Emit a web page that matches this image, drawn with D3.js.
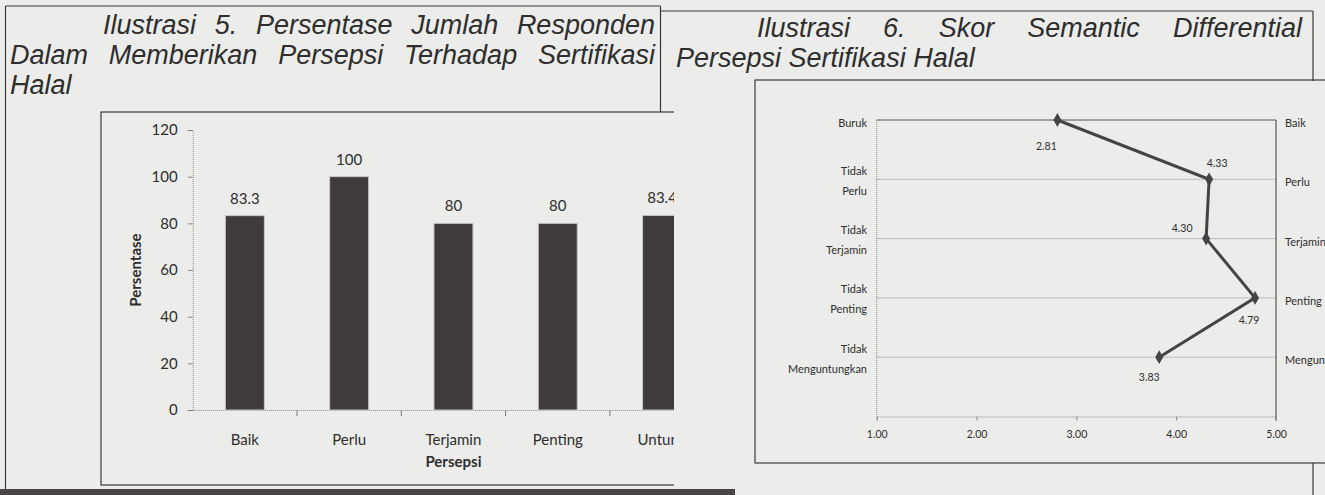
<!DOCTYPE html>
<html>
<head>
<meta charset="utf-8">
<script src="https://cdn.jsdelivr.net/npm/d3@7"></script>
<style>
  body { margin: 0; background: #ececea; }
  svg { display: block; }
</style>
</head>
<body>
<script>
// ---- data: bar chart (Ilustrasi 5) ----
var barCategories = ["Baik", "Perlu", "Terjamin", "Penting", "Untung"];
var barValues = [83.3, 100, 80, 80, 83.4];
var barYTicks = [0, 20, 40, 60, 80, 100, 120];

// ---- data: semantic differential (Ilustrasi 6) ----
var leftLabels = [["Buruk"], ["Tidak", "Perlu"], ["Tidak", "Terjamin"], ["Tidak", "Penting"], ["Tidak", "Menguntungkan"]];
var rightLabels = ["Baik", "Perlu", "Terjamin", "Penting", "Menguntungkan"];
var scores = [2.81, 4.33, 4.30, 4.79, 3.83];
var scoreTicks = [1, 2, 3, 4, 5];

var width = 1325, height = 495;
var ink = "#2e2e2e";
var titleSize = 27;

var svg = d3.select("body").append("svg")
    .attr("width", width)
    .attr("height", height);

svg.append("rect").attr("width", width).attr("height", height).attr("fill", "#ececea");

//__frames of the scanned page__//
function frameLine(x1, y1, x2, y2, w) {
    svg.append("line")
        .attr("x1", x1).attr("y1", y1).attr("x2", x2).attr("y2", y2)
        .attr("stroke", "#3a3a3a").attr("stroke-width", w || 1.2);
}
frameLine(5.5, 6, 660.5, 6);
frameLine(5.5, 6, 5.5, 490);
frameLine(660.5, 6, 660.5, 112);
frameLine(660.5, 11, 1313, 11);
frameLine(1313, 11, 1313, 81);
frameLine(1313, 463, 1313, 495);

// dark scanner edge at the bottom
svg.append("rect").attr("x", 0).attr("y", 489).attr("width", 735).attr("height", 6).attr("fill", "#4a4444");

//__justified italic caption lines__//
function justify(words, x0, x1, y, stretch) {
    var t = svg.append("g")
        .attr("font-family", "'Liberation Sans', Arial, sans-serif")
        .attr("font-style", "italic")
        .attr("font-size", titleSize)
        .attr("fill", ink);
    var nodes = words.map(function (w) {
        return t.append("text").attr("y", y).text(w);
    });
    var widths = nodes.map(function (n) { return n.node().getComputedTextLength(); });
    var total = d3.sum(widths);
    var gap = stretch && words.length > 1 ? (x1 - x0 - total) / (words.length - 1) : titleSize * 0.28;
    var x = x0;
    nodes.forEach(function (n, i) {
        n.attr("x", x);
        x += widths[i] + gap;
    });
}
justify("Ilustrasi 5. Persentase Jumlah Responden".split(" "), 103, 655, 34, true);
justify("Dalam Memberikan Persepsi Terhadap Sertifikasi".split(" "), 10, 655, 64, true);
justify(["Halal"], 10, 100, 94, false);
justify("Ilustrasi 6. Skor Semantic Differential".split(" "), 757, 1302, 37, true);
justify("Persepsi Sertifikasi Halal".split(" "), 676, 1000, 67, false);

//__bar chart__//
var box1 = { left: 101, top: 112, right: 674, bottom: 485 };
svg.append("clipPath").attr("id", "clip1")
    .append("rect").attr("x", 0).attr("y", 0).attr("width", box1.right).attr("height", height);

var g1 = svg.append("g").attr("clip-path", "url(#clip1)")
    .attr("font-family", "Lato, 'Open Sans', sans-serif")
    .attr("fill", ink);

g1.append("rect")
    .attr("x", box1.left).attr("y", box1.top)
    .attr("width", 700).attr("height", box1.bottom - box1.top)
    .attr("fill", "none").attr("stroke", "#3a3a3a").attr("stroke-width", 1.2);

var x = d3.scaleBand()
    .domain(barCategories)
    .range([192.7, 714.2])
    .paddingInner(0.626)
    .paddingOuter(0.313);

var xCat = d3.scaleBand().domain(barCategories).range([192.7, 714.2]);

var y = d3.scaleLinear().domain([0, 120]).range([410, 130]);

var yAxis = g1.append("g")
    .attr("transform", "translate(192.7,0)")
    .call(d3.axisLeft(y).tickValues(barYTicks).tickSize(5).tickPadding(10));
yAxis.select(".domain").attr("stroke", "#888").attr("stroke-dasharray", "1,1");
yAxis.selectAll(".tick line").attr("stroke", "#888");
yAxis.selectAll(".tick text").attr("font-family", "Lato, sans-serif").attr("font-size", 15).attr("fill", ink);

// category axis: labels at centre, ticks between categories
var xAxis = g1.append("g")
    .attr("transform", "translate(0,410)")
    .call(d3.axisBottom(xCat).tickSize(0).tickPadding(24));
xAxis.select(".domain").attr("stroke", "#888").attr("stroke-dasharray", "1,1");
xAxis.selectAll(".tick text").attr("font-family", "Lato, sans-serif").attr("font-size", 15).attr("fill", ink);

g1.selectAll(".catTick")
    .data(barCategories)
    .enter().append("line")
    .attr("class", "catTick")
    .attr("x1", function (d) { return xCat(d) + xCat.step(); })
    .attr("x2", function (d) { return xCat(d) + xCat.step(); })
    .attr("y1", 410).attr("y2", 416)
    .attr("stroke", "#777");

g1.selectAll(".bar")
    .data(barValues)
    .enter().append("rect")
    .attr("class", "bar")
    .attr("x", function (d, i) { return x(barCategories[i]); })
    .attr("y", function (d) { return y(d); })
    .attr("width", x.bandwidth())
    .attr("height", function (d) { return y(0) - y(d); })
    .attr("fill", "#403b3b")
    .attr("stroke", "#c8c8c8")
    .attr("stroke-width", 1);

g1.selectAll(".barLabel")
    .data(barValues)
    .enter().append("text")
    .attr("class", "barLabel")
    .attr("x", function (d, i) { return x(barCategories[i]) + x.bandwidth() / 2; })
    .attr("y", function (d) { return y(d) - 12; })
    .attr("text-anchor", "middle")
    .attr("font-size", 15)
    .text(function (d) { return d; });

g1.append("text")
    .attr("x", xCat("Terjamin") + xCat.bandwidth() / 2)
    .attr("y", 467)
    .attr("text-anchor", "middle")
    .attr("font-size", 15).attr("font-weight", "bold")
    .text("Persepsi");

g1.append("text")
    .attr("transform", "translate(141,270) rotate(-90)")
    .attr("text-anchor", "middle")
    .attr("font-size", 15).attr("font-weight", "bold")
    .text("Persentase");

//__semantic differential chart__//
var box2 = { left: 755, top: 80, bottom: 463 };
var g2 = svg.append("g")
    .attr("font-family", "Lato, 'Open Sans', sans-serif")
    .attr("font-size", 11)
    .attr("fill", ink);

g2.append("rect")
    .attr("x", box2.left).attr("y", box2.top)
    .attr("width", 600).attr("height", box2.bottom - box2.top)
    .attr("fill", "none").attr("stroke", "#3a3a3a").attr("stroke-width", 1.2);

var sx = d3.scaleLinear().domain([1, 5]).range([876.7, 1276]);
var sy = d3.scaleLinear().domain([0, 5]).range([120, 416.5]);
var rows = d3.range(leftLabels.length);

g2.selectAll(".grid")
    .data(rows)
    .enter().append("line")
    .attr("class", "grid")
    .attr("x1", sx(1)).attr("x2", sx(5))
    .attr("y1", function (d) { return sy(d); })
    .attr("y2", function (d) { return sy(d); })
    .attr("stroke", function (d) { return d === 0 ? "#555" : "#8a8a8a"; })
    .attr("stroke-width", function (d) { return d === 0 ? 1.2 : 1; })
    .attr("stroke-dasharray", function (d) { return d === 0 ? null : "1,1"; });

// left (y) axis, dotted
g2.append("line")
    .attr("x1", sx(1)).attr("x2", sx(1)).attr("y1", sy(0)).attr("y2", sy(5))
    .attr("stroke", "#888").attr("stroke-dasharray", "1,1");
// right border
g2.append("line")
    .attr("x1", sx(5)).attr("x2", sx(5)).attr("y1", sy(0)).attr("y2", sy(5) + 4)
    .attr("stroke", "#555").attr("stroke-width", 1.2);

var sAxis = g2.append("g")
    .attr("transform", "translate(0," + sy(5) + ")")
    .call(d3.axisBottom(sx).tickValues(scoreTicks).tickSize(4).tickPadding(10).tickFormat(d3.format(".2f")));
sAxis.select(".domain").attr("stroke", "#888").attr("stroke-dasharray", "1,1");
sAxis.selectAll(".tick line").attr("stroke", "#888");
sAxis.selectAll(".tick text").attr("font-family", "Lato, sans-serif").attr("font-size", 10.5).attr("fill", ink);

// left labels (one or two lines)
g2.selectAll(".leftLab")
    .data(leftLabels)
    .enter().append("text")
    .attr("class", "leftLab")
    .attr("text-anchor", "end")
    .each(function (lines, i) {
        var t = d3.select(this);
        if (lines.length === 1) {
            t.append("tspan").attr("x", 867).attr("y", sy(i) + 7).text(lines[0]);
        } else {
            t.append("tspan").attr("x", 867).attr("y", sy(i) - 4.5).text(lines[0]);
            t.append("tspan").attr("x", 867).attr("y", sy(i) + 15.5).text(lines[1]);
        }
    });

g2.selectAll(".rightLab")
    .data(rightLabels)
    .enter().append("text")
    .attr("class", "rightLab")
    .attr("x", 1285)
    .attr("y", function (d, i) { return sy(i) + 7; })
    .text(function (d) { return d; });

var line = d3.line()
    .x(function (d) { return sx(d); })
    .y(function (d, i) { return sy(i); });

g2.append("path")
    .datum(scores)
    .attr("d", line)
    .attr("fill", "none")
    .attr("stroke", "#444")
    .attr("stroke-width", 3);

g2.selectAll(".marker")
    .data(scores)
    .enter().append("path")
    .attr("class", "marker")
    .attr("d", d3.symbol().type(d3.symbolDiamond).size(55))
    .attr("transform", function (d, i) { return "translate(" + sx(d) + "," + sy(i) + ")"; })
    .attr("fill", "#444");

// label offsets as placed in the original figure
var labelOffsets = [[-11, 30], [8, -12], [-24, -7], [-6, 26], [-10, 24]];
g2.selectAll(".scoreLab")
    .data(scores)
    .enter().append("text")
    .attr("class", "scoreLab")
    .attr("x", function (d, i) { return sx(d) + labelOffsets[i][0]; })
    .attr("y", function (d, i) { return sy(i) + labelOffsets[i][1]; })
    .attr("text-anchor", "middle")
    .attr("font-size", 10.5)
    .text(function (d) { return d3.format(".2f")(d); });
</script>
</body>
</html>
